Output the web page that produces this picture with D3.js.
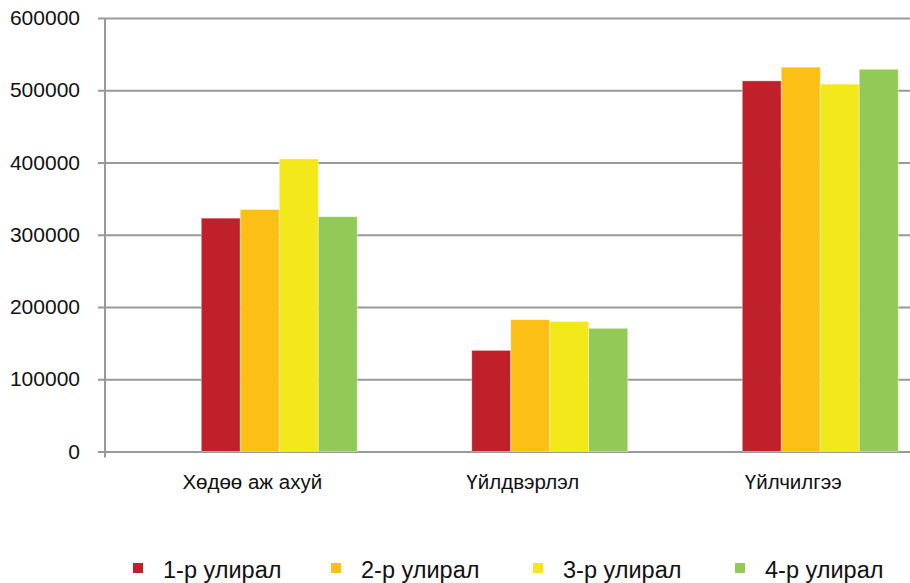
<!DOCTYPE html>
<html>
<head>
<meta charset="utf-8">
<script src="https://cdn.jsdelivr.net/npm/d3@7"></script>
<style>
  body { margin: 0; background: #fff; }
  svg { display: block; font-family: "Liberation Sans", Arial, sans-serif; }
</style>
</head>
<body>
<div id="viz"></div>
<script>
var categories = ['Хөдөө аж ахуй', 'Үйлдвэрлэл', 'Үйлчилгээ'],
    seriesNames = ['1-р улирал', '2-р улирал', '3-р улирал', '4-р улирал'],
    q1 = [323000, 140000, 513000],
    q2 = [335000, 182500, 532000],
    q3 = [405000, 180000, 508500],
    q4 = [325000, 170500, 529000],
    yTicks = [0, 100000, 200000, 300000, 400000, 500000, 600000],
    colors = ['#C0202A', '#FBBF15', '#F2E81A', '#92C957'];

var width = 910, height = 583,
    margin = { top: 18, left: 105, bottom: 132 };

var series = [q1, q2, q3, q4];

var svg = d3.select('#viz').append('svg')
    .attr('width', width)
    .attr('height', height);

var yScale = d3.scaleLinear()
    .domain([0, 600000])
    .range([height - margin.bottom + 0.5, margin.top]);

// plot area is wider than the picture, the right side is cut off
var x0 = d3.scaleBand()
    .domain(categories)
    .range([144, 955.5])
    .paddingInner(0.4233)
    .paddingOuter(0.2117);

var x1 = d3.scaleBand()
    .domain(seriesNames)
    .range([0, x0.bandwidth()]);

// gridlines + y ticks
var yAxis = d3.axisLeft(yScale)
    .tickValues(yTicks)
    .tickFormat(d3.format('d'));

var yGuide = svg.append('g')
    .attr('transform', 'translate(' + margin.left + ',0)')
    .call(yAxis);

yGuide.select('.domain').remove();
yGuide.selectAll('.tick line')
    .attr('x1', -7)
    .attr('x2', width - margin.left)
    .attr('stroke', '#999')
    .attr('stroke-width', 2);
yGuide.selectAll('.tick text')
    .attr('x', -25)
    .attr('fill', '#111')
    .style('font-size', '21px');

// bars
var groups = svg.append('g').selectAll('g')
    .data(categories)
    .enter().append('g')
    .attr('transform', function(d) { return 'translate(' + x0(d) + ',0)'; });

groups.selectAll('rect')
    .data(function(d, i) {
      return seriesNames.map(function(s, j) { return { s: s, v: series[j][i], c: colors[j] }; });
    })
    .enter().append('rect')
    .attr('x', function(d) { return x1(d.s); })
    .attr('width', x1.bandwidth())
    .attr('y', function(d) { return yScale(d.v); })
    .attr('height', function(d) { return yScale(0) - yScale(d.v); })
    .attr('fill', function(d) { return d.c; })
    .attr('stroke', 'rgba(255,255,255,0.5)')
    .attr('stroke-width', 0.8);

// y axis line
svg.append('line')
    .attr('x1', margin.left).attr('x2', margin.left)
    .attr('y1', margin.top).attr('y2', yScale(0) + 6)
    .attr('stroke', '#999')
    .attr('stroke-width', 2);

// category labels (sit a bit left of the bar groups)
svg.append('g').selectAll('text')
    .data(categories)
    .enter().append('text')
    .attr('x', function(d) { return x0(d) + x0.bandwidth() / 2 - 27; })
    .attr('y', 489)
    .attr('text-anchor', 'middle')
    .attr('fill', '#111')
    .style('font-size', '20.5px')
    .text(function(d) { return d; });

// legend
var legendX = [133, 331, 533, 735];
var legend = svg.append('g').selectAll('g')
    .data(seriesNames)
    .enter().append('g')
    .attr('transform', function(d, i) { return 'translate(' + legendX[i] + ',563)'; });

legend.append('rect')
    .attr('width', 10)
    .attr('height', 10)
    .attr('fill', function(d, i) { return colors[i]; });

legend.append('text')
    .attr('x', 30)
    .attr('y', 15)
    .attr('fill', '#111')
    .style('font-size', '23.5px')
    .text(function(d) { return d; });
</script>
</body>
</html>
